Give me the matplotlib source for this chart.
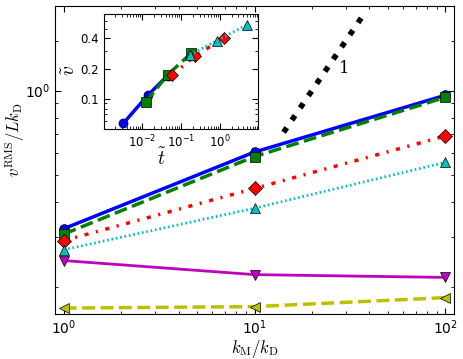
import numpy as np
import matplotlib
matplotlib.use("Agg")
import matplotlib.pyplot as plt
from matplotlib.ticker import FixedLocator, NullFormatter, LogLocator, FixedFormatter

plt.rcParams['mathtext.fontset'] = 'dejavusans'
plt.rcParams['xtick.direction'] = 'in'
plt.rcParams['ytick.direction'] = 'in'

# ---- main panel data ----
kratio = [1, 10, 100]
v_blue = [0.322, 0.604, 0.962]
v_green = [0.308, 0.582, 0.946]
v_red = [0.292, 0.448, 0.689]
v_cyan = [0.271, 0.381, 0.555]
v_magenta = [0.248, 0.221, 0.216]
v_yellow = [0.168, 0.170, 0.183]

# slope-1 guide line
guide_x = [14.2, 37.2]
guide_y = [0.71, 1.86]

# ---- inset data ----
t_blue = [0.0033, 0.0139, 0.045]
vt_blue = [0.057, 0.108, 0.170]
t_green = [0.0123, 0.045, 0.18]
vt_green = [0.092, 0.173, 0.283]
t_red = [0.059, 0.23, 1.31]
vt_red = [0.173, 0.267, 0.408]
t_cyan = [0.17, 0.84, 5.1]
vt_cyan = [0.273, 0.381, 0.55]

cb = (0, 0, 1)
cg = (0, 0.5, 0)
cr = (1, 0, 0)
cc = (0, 0.75, 0.75)
cm = (0.75, 0, 0.75)
cy = (0.75, 0.75, 0)

red_dash = (0, (1.2, 2.2, 0.6, 2.2))
cyan_dots = (0, (0.6, 1.0))

fig = plt.figure(figsize=(4.63, 3.59), dpi=100)
ax = fig.add_axes([0.1188, 0.1253, 0.8618, 0.858])

ms = 7
ax.plot(kratio, v_blue, '-', color=cb, lw=2.5, marker='o', ms=ms, mec='k', mew=0.5)
ax.plot(kratio, v_green, '--', color=cg, lw=2.5, marker='s', ms=ms, mec='k', mew=0.5)
ax.plot(kratio, v_red, linestyle=red_dash, color=cr, lw=2.5, marker='D', ms=ms, mec='k', mew=0.5)
ax.plot(kratio, v_cyan, linestyle=cyan_dots, color=cc, lw=2, marker='^', ms=ms, mec='k', mew=0.5)
ax.plot(kratio, v_magenta, '-', color=cm, lw=2, marker='v', ms=ms, mec='k', mew=0.5)
ax.plot(kratio, v_yellow, '--', color=cy, lw=2.5, marker='<', ms=ms, mec='k', mew=0.5)
ax.plot(guide_x, guide_y, ':', color='k', lw=4)
ax.text(29.5, 1.195, '1', fontsize=12, family='DejaVu Serif', ha='center', va='center')

ax.set_xscale('log')
ax.set_yscale('log')
ax.set_xlim(0.9, 111)
ax.set_ylim(0.16, 2.0)
ax.yaxis.set_major_locator(FixedLocator([1.0]))
ax.yaxis.set_minor_locator(FixedLocator([0.2, 0.3, 0.4, 0.5, 0.6, 0.7, 0.8, 0.9, 1.5]))
ax.yaxis.set_minor_formatter(NullFormatter())
ax.tick_params(which='both', top=True, right=True, labelsize=10)
ax.tick_params(which='major', length=4)
ax.tick_params(which='minor', length=2)

ax.set_xlabel(r'$k_{\rm M}/k_{\rm D}$', fontsize=12, math_fontfamily='cm')
ax.set_ylabel(r'$v^{\rm RMS}/Lk_{\rm D}$', fontsize=12, math_fontfamily='cm')
ax.xaxis.set_label_coords(0.5, -0.078)
ax.yaxis.set_label_coords(-0.07, 0.565)

# ---- inset ----
ins = fig.add_axes([0.2246, 0.6407, 0.3326, 0.3203])
ims = 6.5
ins.plot(t_blue, vt_blue, '-', color=cb, lw=2.5, marker='o', ms=ims, mec='k', mew=0.5)
ins.plot(t_green, vt_green, '--', color=cg, lw=2.5, marker='s', ms=ims, mec='k', mew=0.5)
ins.plot(t_red, vt_red, linestyle=red_dash, color=cr, lw=2.5, marker='D', ms=ims, mec='k', mew=0.5)
ins.plot(t_cyan, vt_cyan, linestyle=cyan_dots, color=cc, lw=2, marker='^', ms=ims, mec='k', mew=0.5)
ins.set_xscale('log')
ins.set_yscale('log')
ins.set_xlim(1.05e-3, 9.5)
ins.set_ylim(0.05, 0.7)
ins.xaxis.set_major_locator(FixedLocator([1e-2, 1e-1, 1e0]))
ins.yaxis.set_major_locator(FixedLocator([0.1, 0.2, 0.4]))
ins.yaxis.set_major_formatter(FixedFormatter(['0.1', '0.2', '0.4']))
ins.yaxis.set_minor_locator(LogLocator(base=10, subs=np.arange(2, 10)))
ins.yaxis.set_minor_formatter(NullFormatter())
ins.tick_params(which='both', top=True, right=True, labelsize=8.5)
ins.tick_params(which='major', length=4)
ins.tick_params(which='minor', length=2)
ins.set_xlabel(r'$\tilde{t}$', fontsize=14, math_fontfamily='cm')
ins.set_ylabel(r'$\tilde{v}$', fontsize=14, math_fontfamily='cm')
ins.xaxis.set_label_coords(0.375, -0.16)
ins.yaxis.set_label_coords(-0.165, 0.51)

fig.savefig('out.png', dpi=100)
